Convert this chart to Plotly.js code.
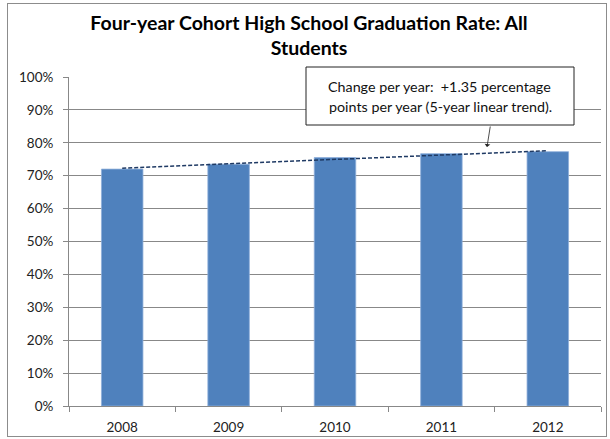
<!DOCTYPE html>
<html>
<head>
<meta charset="utf-8">
<script src="https://cdn.plot.ly/plotly-3.0.1.min.js"></script>
<style>
html,body{margin:0;padding:0;background:#fff;}
#frame{position:absolute;left:7px;top:3px;width:598px;height:432px;border:1px solid #8c8c8c;}
#chart{position:absolute;left:0;top:0;width:610px;height:439px;}
</style>
</head>
<body>
<div id="frame"></div>
<div id="chart"></div>
<script>
// Data
var years = ['2008', '2009', '2010', '2011', '2012'];
var gradRate = [0.720, 0.735, 0.755, 0.767, 0.773];
var trendYears = ['2008', '2012'];
var trendValues = [0.723, 0.776];
var yTicks = [0, 0.1, 0.2, 0.3, 0.4, 0.5, 0.6, 0.7, 0.8, 0.9, 1.0];
var titleText = 'Four-year Cohort High School Graduation Rate: All<br>Students';
var noteLines = ['Change per year:  +1.35 percentage', 'points per year (5-year linear trend).'];

var FONT = 'Lato, "Open Sans", sans-serif';
var PL = 69, PR = 601, PT = 77, PB = 406;
function px(x) { return (x - PL) / (PR - PL); }
function py(y) { return (PB - y) / (PB - PT); }

var bars = {
  type: 'bar',
  x: years,
  y: gradRate,
  marker: {color: '#4F81BD', line: {color: '#8EAEDA', width: 0.8}},
  hoverinfo: 'none'
};
var trend = {
  type: 'scatter',
  mode: 'lines',
  x: trendYears,
  y: trendValues,
  line: {color: '#1F3A64', width: 1.5, dash: '4px,2px'},
  hoverinfo: 'none'
};

var layout = {
  width: 610,
  height: 439,
  margin: {l: PL, r: 610 - PR, t: PT, b: 439 - PB},
  paper_bgcolor: 'rgba(0,0,0,0)',
  plot_bgcolor: 'rgba(0,0,0,0)',
  showlegend: false,
  bargap: 0.61,
  font: {family: FONT, size: 13, color: '#222'},
  title: {
    text: titleText,
    font: {family: FONT, size: 19.5, color: '#000', weight: 'bold'},
    x: 309 / 610, xref: 'container', xanchor: 'center',
    y: 1 - 30 / 439, yref: 'container', yanchor: 'middle'
  },
  xaxis: {
    type: 'category',
    categoryorder: 'array',
    categoryarray: years,
    showline: true, linecolor: '#888', linewidth: 1,
    ticks: 'outside', tickson: 'boundaries', ticklen: 5, tickcolor: '#888',
    ticklabelstandoff: 9,
    showgrid: false, zeroline: false,
    tickfont: {family: FONT, size: 13.5, color: '#222'},
    fixedrange: true
  },
  yaxis: {
    range: [0, 1],
    tickvals: yTicks,
    tickformat: '.0%',
    showline: true, linecolor: '#888', linewidth: 1,
    ticks: 'outside', ticklen: 5, tickcolor: '#888',
    ticklabelstandoff: 7,
    showgrid: true, gridcolor: '#888', gridwidth: 1,
    zeroline: false,
    tickfont: {family: FONT, size: 13.5, color: '#222'},
    fixedrange: true
  },
  shapes: [{
    type: 'rect', xref: 'paper', yref: 'paper',
    x0: px(306), x1: px(574),
    y0: py(125), y1: py(67),
    line: {color: '#222', width: 1}, fillcolor: '#fff', layer: 'above'
  }],
  annotations: [
    {xref: 'paper', yref: 'paper', x: px(439), y: py(87),
     text: noteLines[0], showarrow: false, xanchor: 'center', yanchor: 'middle',
     font: {family: FONT, size: 14.3, color: '#111'}},
    {xref: 'paper', yref: 'paper', x: px(440), y: py(107),
     text: noteLines[1], showarrow: false, xanchor: 'center', yanchor: 'middle',
     font: {family: FONT, size: 14.3, color: '#111'}},
    {xref: 'paper', yref: 'paper', x: px(487), y: py(147),
     text: '', showarrow: true, arrowhead: 1, arrowsize: 1.2, arrowwidth: 0.8,
     arrowcolor: '#222', ax: 3.5, ay: -22, standoff: 0}
  ]
};

Plotly.newPlot('chart', [bars, trend], layout, {displayModeBar: false, staticPlot: true});
</script>
</body>
</html>
